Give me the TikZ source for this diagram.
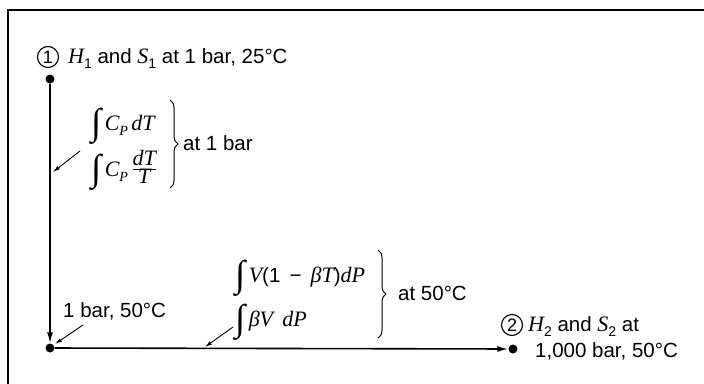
\documentclass[tikz,border=0pt]{standalone}
\usepackage{fontspec}
\setmainfont{Liberation Sans}
\newfontfamily\varfont{Liberation Serif}
\usetikzlibrary{arrows.meta,decorations.pathreplacing}
\newcommand\vv[1]{{\varfont\itshape\fontsize{22}{24}\selectfont #1}}
\newcommand\sub[1]{\raisebox{-0.28em}{\fontsize{14}{14}\selectfont #1}}
\newcommand\subv[1]{\raisebox{-0.28em}{\varfont\itshape\fontsize{14}{14}\selectfont #1}}
\newcommand\integ{\raisebox{-0.22em}[0.7em][0.2em]{\fontsize{37}{37}\selectfont\varfont\itshape ∫}}
\newcommand\frc[2]{\raisebox{0.1em}[0.9em][0.5em]{$\frac{\hbox{#1}}{\hbox{#2}}$}}
\begin{document}
\begin{tikzpicture}[x=1pt,y=-1pt,
  every node/.style={font=\fontsize{20.5}{24}\selectfont,inner sep=0pt},
  num/.style={circle,draw,line width=1.1pt,minimum size=21pt,font=\fontsize{18}{20}\selectfont},
  state/.style={circle,fill,minimum size=9pt},
  route/.style={line width=1.6pt,-{Latex[length=11pt,width=6pt]}},
  pointer/.style={line width=0.9pt,-{Latex[length=7pt,width=4pt]}},
  bracket/.style={line width=1pt,decorate,decoration={brace,amplitude=8pt}}]
\useasboundingbox (0,0) rectangle (704,383);
\clip (0,0) rectangle (704,383);
\draw[line width=1.5pt] (8,10) rectangle (720,400);
% states and path
\node[state] (s1) at (50,79) {};
\node[state] (s0) at (50,348) {};
\node[state] (s2) at (513,349) {};
\draw[route] (s1) -- (s0);
\draw[route] (s0) -- (s2);
\node[num] (c1) at (48,57) {1};
\node[anchor=base west] (t1) at (68,63) {\vv{H}\sub{1} and \vv{S}\sub{1} at 1 bar, 25°C};
\node[num] (c2) at (512,325) {2};
\node[anchor=base west] (t2) at (528,331) {\vv{H}\sub{2} and \vv{S}\sub{2} at};
\node[anchor=base west] (t3) at (535,357) {1,000 bar, 50°C};
\node[anchor=base west] (t0) at (63,317) {1 bar, 50°C};
% step at 1 bar
\node[anchor=base west] (i1) at (91,130) {\integ\,\vv{C}\subv{P}\,\vv{dT}};
\node[anchor=base west] (i2) at (91,176) {\integ\,\vv{C}\subv{P}\,\frc{\vv{dT}}{\vv{T}}};
\draw[bracket] (170,100) -- (170,188);
\node[anchor=base west] (a1) at (183,150) {at 1 bar};
% step at 50 C
\node[anchor=base west] (i3) at (235,282) {\integ\,\vv{V}(1\, −\, \vv{βT})\vv{dP}};
\node[anchor=base west] (i4) at (235,326) {\integ\,\vv{βV\, dP}};
\draw[bracket] (378,250) -- (378,338);
\node[anchor=base west] (a2) at (398,300) {at 50°C};
% pointers
\coordinate (f1) at (80,151);
\coordinate (e1) at (53,172);
\coordinate (f2) at (83,325);
\coordinate (e2) at (55,344);
\coordinate (f3) at (233,327);
\coordinate (e3) at (205,347);
\foreach \n in {1,2,3}
  \draw[pointer] (f\n) -- (e\n);
\end{tikzpicture}
\end{document}
